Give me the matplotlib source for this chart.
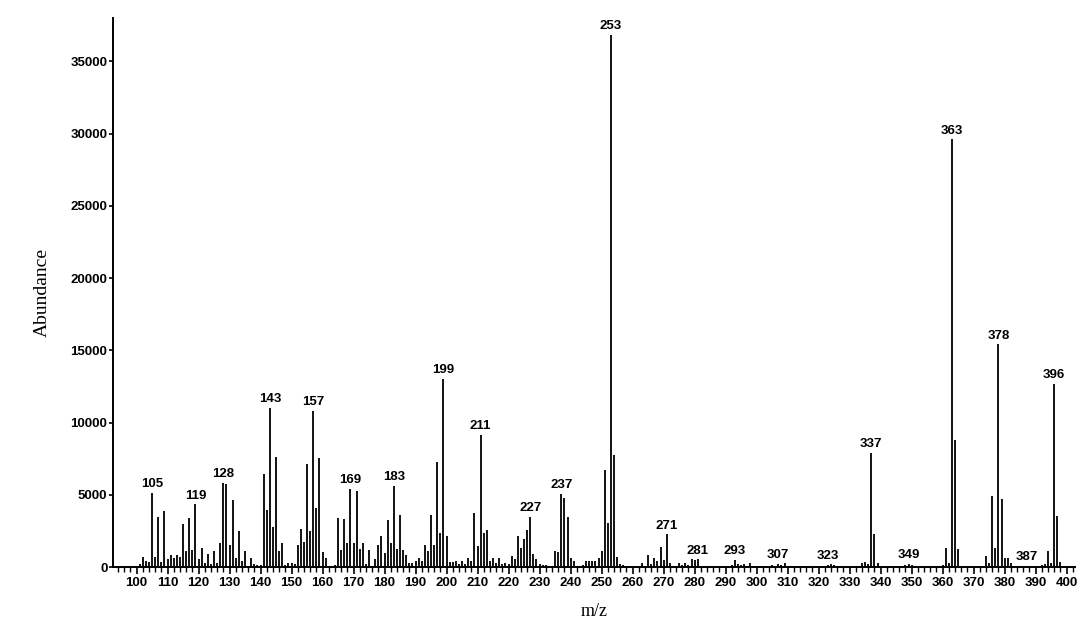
import numpy as np
import matplotlib
matplotlib.use('Agg')
import matplotlib.pyplot as plt
from matplotlib.ticker import MultipleLocator

plt.rcParams['font.family'] = ['Liberation Sans', 'DejaVu Sans']

# peaks (m/z, abundance)
mz = [
  101, 102, 103, 104, 105, 106, 107, 108, 109, 110,
  111, 112, 113, 114, 115, 116, 117, 118, 119, 120,
  121, 122, 123, 124, 125, 126, 127, 128, 129, 130,
  131, 132, 133, 134, 135, 136, 137, 138, 139, 140,
  141, 142, 143, 144, 145, 146, 147, 148, 149, 150,
  151, 152, 153, 154, 155, 156, 157, 158, 159, 160,
  161, 162, 163, 164, 165, 166, 167, 168, 169, 170,
  171, 172, 173, 174, 175, 176, 177, 178, 179, 180,
  181, 182, 183, 184, 185, 186, 187, 188, 189, 190,
  191, 192, 193, 194, 195, 196, 197, 198, 199, 200,
  201, 202, 203, 204, 205, 206, 207, 208, 209, 210,
  211, 212, 213, 214, 215, 216, 217, 218, 219, 220,
  221, 222, 223, 224, 225, 226, 227, 228, 229, 230,
  231, 232, 233, 234, 235, 236, 237, 238, 239, 240,
  241, 242, 243, 244, 245, 246, 247, 248, 249, 250,
  251, 252, 253, 254, 255, 256, 257, 258, 259, 260,
  263, 265, 266, 267, 268, 269, 270, 271, 272, 274,
  275, 276, 277, 278, 279, 280, 281, 282, 285, 287,
  289, 291, 292, 293, 294, 295, 296, 297, 298, 299,
  301, 303, 305, 306, 307, 308, 309, 310, 312, 314,
  316, 319, 321, 323, 324, 325, 326, 328, 331, 333,
  334, 335, 336, 337, 338, 339, 341, 343, 345, 347,
  348, 349, 350, 351, 353, 356, 359, 360, 361, 362,
  363, 364, 365, 366, 370, 372, 373, 374, 375, 376,
  377, 378, 379, 380, 381, 382, 384, 387, 390, 392,
  393, 394, 395, 396, 397, 398, 400,
]
abundance = [
  200, 700, 450, 350, 5150, 700, 3480, 350, 3880, 550,
  850, 600, 800, 700, 2950, 1100, 3420, 1150, 4340, 550,
  1340, 250, 900, 200, 1100, 300, 1660, 5800, 5750, 1500,
  4620, 650, 2490, 450, 1120, 100, 650, 200, 150, 150,
  6460, 3950, 11030, 2740, 7640, 1120, 1660, 150, 250, 300,
  200, 1500, 2600, 1700, 7100, 2490, 10800, 4060, 7570, 1020,
  650, 80, 100, 150, 3420, 1160, 3330, 1640, 5400, 1690,
  5260, 1270, 1640, 200, 1160, 100, 550, 1500, 2140, 970,
  3270, 1690, 5630, 1220, 3620, 1160, 830, 300, 250, 450,
  650, 450, 1500, 1120, 3620, 1500, 7290, 2370, 13000, 2140,
  350, 350, 450, 200, 450, 200, 600, 450, 3740, 1450,
  9140, 2330, 2560, 450, 650, 300, 650, 200, 300, 200,
  760, 550, 2150, 1290, 1940, 2560, 3480, 880, 560, 200,
  150, 150, 100, 100, 1100, 1020, 5080, 4750, 3480, 650,
  450, 50, 50, 150, 450, 450, 450, 450, 650, 1100,
  6720, 3070, 36800, 7760, 720, 200, 150, 100, 100, 50,
  300, 830, 200, 650, 450, 1410, 480, 2260, 300, 100,
  250, 150, 300, 150, 550, 500, 530, 100, 80, 100,
  80, 100, 150, 480, 200, 150, 200, 100, 300, 100,
  80, 100, 150, 100, 220, 150, 250, 100, 100, 80,
  100, 80, 80, 150, 200, 120, 100, 80, 50, 100,
  300, 370, 200, 7900, 2300, 250, 80, 100, 80, 100,
  150, 200, 120, 80, 80, 50, 100, 120, 1290, 300,
  29600, 8800, 1220, 100, 50, 80, 100, 760, 300, 4900,
  1290, 15400, 4700, 600, 650, 250, 50, 100, 80, 150,
  200, 1100, 300, 12700, 3530, 350, 50,
]

labelled = [105, 119, 128, 143, 157, 169, 183, 199, 211, 227, 237, 253,
            271, 281, 293, 307, 323, 337, 349, 363, 378, 387, 396]

fig = plt.figure(figsize=(10.81, 6.24), dpi=100)
ax = fig.add_axes([0.1045, 0.0913, 0.89, 0.88])

ax.vlines(mz, 0, abundance, color='black', linewidth=1.3)

peak = dict(zip(mz, abundance))
for m in labelled:
  ax.annotate(str(m), (m, peak[m]), xytext=(0, 2), textcoords='offset points',
              ha='center', va='bottom', fontsize=9.5, fontweight='bold')

ax.set_xlim(92.4, 402.7)
ax.set_ylim(0, 38000)

ax.xaxis.set_major_locator(MultipleLocator(10))
ax.xaxis.set_minor_locator(MultipleLocator(2))
ax.yaxis.set_major_locator(MultipleLocator(5000))
ax.set_xticks(np.arange(100, 401, 10))

ax.tick_params(axis='x', which='major', length=5, width=1.2, labelsize=9.5, pad=2)
ax.tick_params(axis='x', which='minor', length=3.5, width=1.0)
ax.tick_params(axis='y', length=3, width=1.2, labelsize=9.5, pad=1)
for lab in ax.get_xticklabels() + ax.get_yticklabels():
  lab.set_fontweight('bold')

for side in ['top', 'right']:
  ax.spines[side].set_visible(False)
for side in ['left', 'bottom']:
  ax.spines[side].set_linewidth(1.4)

ax.set_xlabel('m/z', family='Liberation Serif', fontsize=13, labelpad=10)
ax.set_ylabel('Abundance', family='Liberation Serif', fontsize=14, labelpad=14)

fig.savefig('out.png', dpi=100)
